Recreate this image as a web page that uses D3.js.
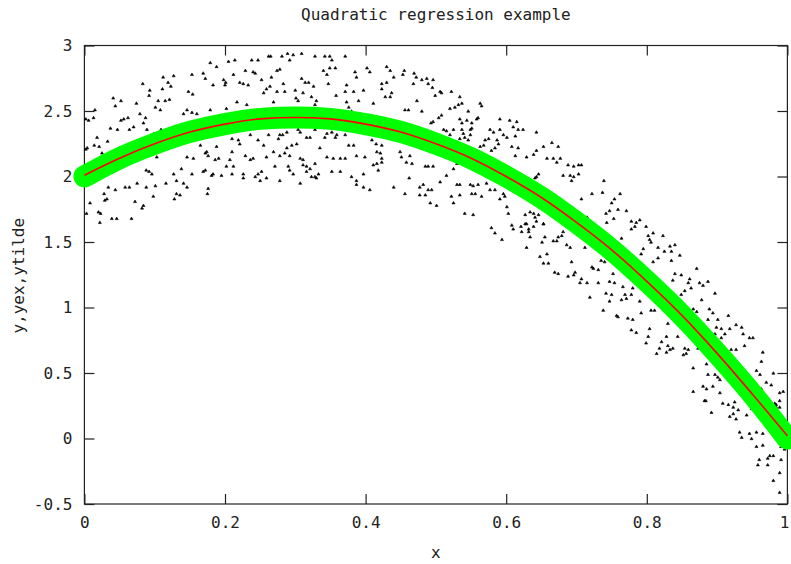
<!DOCTYPE html>
<html>
<head>
<meta charset="utf-8">
<script src="https://cdn.jsdelivr.net/npm/d3@7"></script>
<style>
  body { margin: 0; background: #fff; }
  text { font-family: 'DejaVu Sans Mono', monospace; font-size: 16px; fill: #222; }
</style>
</head>
<body>
<div id="main-chart-container"></div>
<script>
const chartTitle = 'Quadratic regression example'
const xLabel = 'x'
const yLabel = 'y,yex,ytilde'
const xTicks = [0, 0.2, 0.4, 0.6, 0.8, 1]
const yTicks = [-0.5, 0, 0.5, 1, 1.5, 2, 2.5, 3]

// sample positions for the two fitted curves
const curveX = [0, 0.05, 0.1, 0.15, 0.2, 0.25, 0.3, 0.35, 0.4, 0.45, 0.5,
  0.55, 0.6, 0.65, 0.7, 0.75, 0.8, 0.85, 0.9, 0.95, 1]
const yex = [2.0, 2.14, 2.25, 2.34, 2.4, 2.44, 2.45, 2.44, 2.4, 2.34, 2.25,
  2.14, 2.0, 1.84, 1.65, 1.44, 1.2, 0.94, 0.65, 0.34, 0.0]
const ytilde = [2.01, 2.14, 2.25, 2.34, 2.4, 2.44, 2.45, 2.44, 2.4, 2.34, 2.25,
  2.14, 2.0, 1.84, 1.65, 1.44, 1.2, 0.94, 0.65, 0.34, 0.02]

const observed = [
  [.083,2.71],[.093,2.66],[.092,2.62],[.112,2.76],[.119,2.72],[.123,2.69],[.111,2.67],[.127,2.77],[.153,2.78],[.148,2.65],
  [.154,2.63],[.041,2.60],[.052,2.58],[.044,2.54],[.074,2.56],[.105,2.58],[.115,2.58],[.121,2.59],[.101,2.53],[.108,2.51],
  [.079,2.48],[.087,2.45],[.056,2.44],[.062,2.45],[.052,2.43],[.015,2.51],[.013,2.45],[.006,2.43],[.002,2.44],[.084,2.41],
  [.070,2.38],[.064,2.36],[.047,2.36],[.037,2.37],[.018,2.30],[.033,2.27],[.021,2.23],[.014,2.24],[.004,2.22],[.002,2.21],
  [.025,2.18],[.020,2.11],[.089,2.36],[.099,2.33],[.109,2.36],[.146,2.51],[.153,2.49],[.141,2.48],[.160,2.48],[.136,2.30],
  [.127,2.28],[.157,2.29],[.117,2.22],[.146,2.15],[.155,2.14],[.103,2.15],[.096,2.02],[.092,2.04],[.088,2.05],[.127,2.02],
  [.138,2.06],[.153,2.02],[.116,1.95],[.131,1.97],[.141,1.95],[.146,1.92],[.101,1.93],[.088,1.92],[.064,1.92],[.058,1.92],
  [.075,1.95],[.034,1.92],[.044,1.90],[.028,1.87],[.032,1.83],[.029,1.82],[.098,1.85],[.131,1.87],[.136,1.86],[.128,1.83],
  [.008,1.80],[.072,1.81],[.084,1.78],[.082,1.76],[.020,1.73],[.023,1.72],[.003,1.72],[.067,1.68],[.039,1.68],[.046,1.68],
  [.022,1.65],
  [.179,2.87],[.188,2.84],[.205,2.88],[.214,2.89],[.238,2.89],[.247,2.89],[.262,2.92],[.265,2.92],[.281,2.92],[.289,2.94],
  [.292,2.89],[.297,2.93],[.309,2.94],[.328,2.92],[.342,2.92],[.349,2.92],[.352,2.89],[.371,2.92],[.169,2.79],[.172,2.75],
  [.198,2.74],[.201,2.72],[.200,2.70],[.183,2.70],[.212,2.78],[.221,2.72],[.226,2.71],[.233,2.70],[.240,2.80],[.243,2.79],
  [.252,2.74],[.229,2.81],[.259,2.67],[.264,2.69],[.255,2.64],[.266,2.76],[.274,2.81],[.278,2.82],[.283,2.71],[.274,2.65],
  [.285,2.65],[.300,2.66],[.301,2.60],[.304,2.58],[.309,2.75],[.314,2.72],[.319,2.72],[.311,2.64],[.323,2.61],[.326,2.69],
  [.330,2.58],[.328,2.55],[.340,2.81],[.345,2.78],[.349,2.83],[.357,2.83],[.347,2.71],[.358,2.62],[.371,2.65],[.373,2.70],
  [.383,2.65],[.385,2.80],[.387,2.76],[.397,2.66],[.402,2.83],[.406,2.80],[.411,2.56],[.423,2.71],[.430,2.72],[.423,2.67],
  [.430,2.84],[.435,2.81],[.437,2.64],[.435,2.61],[.428,2.61],[.440,2.76],[.217,2.57],[.231,2.55],[.269,2.57],[.179,2.51],
  [.202,2.52],[.373,2.57],[.376,2.53],[.380,2.50],[.390,2.58],[.392,2.48],[.397,2.47],
  [.165,2.24],[.172,2.18],[.176,2.16],[.174,2.19],[.186,2.13],[.191,2.14],[.188,2.23],[.210,2.29],[.219,2.28],[.221,2.25],
  [.236,2.32],[.247,2.28],[.255,2.24],[.262,2.32],[.278,2.32],[.282,2.32],[.276,2.29],[.288,2.34],[.295,2.24],[.302,2.25],
  [.304,2.36],[.307,2.34],[.316,2.30],[.328,2.36],[.342,2.30],[.345,2.33],[.352,2.34],[.357,2.30],[.359,2.32],[.371,2.32],
  [.376,2.24],[.383,2.24],[.397,2.34],[.409,2.28],[.415,2.25],[.423,2.24],[.416,2.19],[.421,2.18],[.423,2.14],[.399,2.15],
  [.387,2.16],[.371,2.14],[.364,2.14],[.354,2.14],[.345,2.15],[.328,2.10],[.335,2.22],[.321,2.30],[.311,2.13],[.307,2.14],
  [.292,2.16],[.278,2.16],[.285,2.18],[.288,2.22],[.269,2.19],[.259,2.15],[.236,2.13],[.240,2.14],[.229,2.16],[.210,2.19],
  [.207,2.13],[.172,2.05],[.169,2.04],[.183,2.02],[.181,2.01],[.195,2.01],[.202,2.08],[.212,2.08],[.210,2.02],[.226,1.99],
  [.243,2.00],[.247,2.02],[.252,2.04],[.250,1.97],[.259,1.99],[.271,2.08],[.278,1.97],[.290,2.08],[.292,2.05],[.297,2.02],
  [.307,1.95],[.311,2.09],[.316,2.08],[.316,2.04],[.321,2.06],[.323,2.00],[.328,2.00],[.333,2.02],[.330,1.99],[.352,2.04],
  [.364,2.04],[.380,2.00],[.387,1.97],[.397,2.02],[.411,2.09],[.416,2.10],[.423,2.11],[.387,1.94],[.397,1.92],[.406,1.90],
  [.418,2.05],[.440,1.92],[.226,2.02],[.176,1.91],[.175,1.87],
  [.455,2.81],[.453,2.78],[.469,2.79],[.472,2.76],[.468,2.71],[.480,2.74],[.487,2.75],[.489,2.71],[.496,2.74],[.495,2.68],
  [.506,2.65],[.508,2.64],[.499,2.62],[.522,2.65],[.534,2.61],[.537,2.56],[.473,2.58],[.480,2.50],[.456,2.51],[.461,2.51],
  [.520,2.52],[.527,2.53],[.532,2.55],[.546,2.50],[.563,2.56],[.565,2.54],[.560,2.45],[.508,2.47],[.504,2.45],[.496,2.42],
  [.493,2.41],[.534,2.44],[.544,2.43],[.551,2.41],[.558,2.44],[.537,2.41],[.591,2.44],[.605,2.43],[.615,2.42],[.610,2.38],
  [.617,2.36],[.624,2.36],[.643,2.34],[.613,2.31],[.577,2.36],[.582,2.34],[.591,2.36],[.596,2.32],[.575,2.29],[.570,2.28],
  [.568,2.24],[.563,2.23],[.587,2.28],[.589,2.25],[.584,2.22],[.579,2.20],[.565,2.18],[.601,2.30],[.608,2.23],[.617,2.22],
  [.613,2.16],[.643,2.20],[.639,2.17],[.629,2.15],[.653,2.23],[.665,2.26],[.674,2.23],[.658,2.14],[.667,2.14],[.672,2.11],
  [.677,2.14],[.688,2.09],[.696,2.08],[.703,2.09],[.707,2.09],[.681,2.01],[.691,2.01],[.696,2.00],[.693,1.97],[.703,2.02],
  [.707,1.83],[.722,1.87],[.715,1.69],[.646,2.02],[.643,2.00],[.641,1.99],[.511,2.36],[.515,2.35],[.525,2.36],[.537,2.36],
  [.539,2.33],[.549,2.36],[.551,2.37],[.549,2.32],[.520,2.32],[.534,2.29],[.541,2.30],[.546,2.28],
  [.449,2.19],[.458,2.11],[.466,2.10],[.462,1.99],[.456,1.87],[.477,1.92],[.482,1.94],[.485,2.08],[.489,2.08],[.496,2.08],
  [.494,1.90],[.489,1.90],[.485,1.86],[.477,1.86],[.492,1.80],[.501,1.78],[.506,1.96],[.522,1.85],[.525,1.80],[.530,1.94],
  [.534,1.94],[.534,1.86],[.549,1.94],[.553,1.93],[.560,1.94],[.572,1.95],[.551,1.87],[.556,1.87],[.565,1.85],[.541,1.72],
  [.553,1.71],[.577,1.90],[.584,1.90],[.596,1.87],[.591,1.83],[.598,1.85],[.601,1.77],[.603,1.72],[.608,1.63],[.627,1.71],
  [.634,1.73],[.639,1.72],[.641,1.69],[.629,1.64],[.653,1.64],[.639,1.62],[.632,1.60],[.646,1.71],[.515,2.01],[.525,2.06],
  [.530,2.10],[.463,2.16],[.451,2.15],
  [.579,1.61],[.584,1.57],[.594,1.52],[.610,1.60],[.621,1.62],[.627,1.64],[.622,1.58],[.632,1.58],[.643,1.66],[.653,1.64],
  [.634,1.54],[.629,1.46],[.651,1.50],[.655,1.54],[.667,1.51],[.672,1.51],[.674,1.54],[.679,1.55],[.681,1.58],[.686,1.48],
  [.691,1.46],[.648,1.39],[.658,1.41],[.653,1.34],[.660,1.34],[.669,1.27],[.674,1.26],[.693,1.35],[.688,1.24],[.696,1.25],
  [.698,1.27],[.707,1.22],[.705,1.19],[.715,1.19],[.719,1.08],[.722,1.31],[.724,1.30],[.731,1.29],[.731,1.19],[.712,1.46],
  [.739,1.97],[.737,1.88],[.754,1.83],[.762,1.87],[.750,1.80],[.747,1.74],[.742,1.72],[.759,1.75],[.771,1.74],[.753,1.68],
  [.743,1.65],[.778,1.66],[.785,1.65],[.790,1.67],[.783,1.62],[.799,1.62],
  [.778,1.60],[.764,1.53],[.802,1.55],[.809,1.57],[.804,1.52],[.806,1.50],[.823,1.55],
  [.795,1.45],[.792,1.41],[.816,1.46],[.833,1.47],[.825,1.43],[.835,1.43],[.840,1.48],[.847,1.40],[.809,1.35],[.816,1.38],
  [.835,1.36],[.871,1.30],[.849,1.25],[.840,1.26],[.837,1.21],[.861,1.22],[.859,1.19],[.875,1.19],[.887,1.20],[.880,1.17],
  [.854,1.13],[.849,1.10],[.847,1.06],[.863,1.15],[.897,1.11],[.878,1.06],[.866,0.99],[.889,0.99],[.894,0.96],[.871,0.97],
  [.916,0.94],[.901,0.91],[.887,0.91],[.899,0.85],[.906,0.84],[.927,0.87],[.935,0.85],[.918,0.84],[.911,0.80],[.897,0.80],
  [.906,0.77],[.937,0.80],[.946,0.77],[.951,0.77],[.939,0.71],[.927,0.68],[.920,0.68],[.965,0.66],[.963,0.59],[.956,0.52],
  [.980,0.50],[.961,0.49],[.970,0.43],[.977,0.41],[.963,0.38],[.989,0.35],[.994,0.36],[.989,0.29],[.982,0.27],[.984,0.24],
  [.735,1.36],[.740,1.35],[.752,1.26],[.747,1.20],[.754,1.19],[.742,1.11],[.750,1.10],[.747,1.05],[.738,0.98],[.766,1.16],
  [.769,1.10],[.771,1.07],[.778,1.10],[.780,1.15],[.764,1.06],[.790,1.05],[.757,0.94],[.759,0.93],[.773,0.92],[.780,0.91],
  [.778,0.83],[.785,0.81],[.792,0.96],[.806,0.98],[.811,0.98],[.804,0.84],[.802,0.78],[.799,0.73],[.821,0.74],[.818,0.69],
  [.814,0.65],[.828,0.66],[.833,0.68],[.837,0.69],[.830,0.71],[.828,0.78],[.830,0.88],[.844,0.78],[.854,0.69],[.856,0.65],
  [.852,0.64],[.859,0.68],[.873,0.69],[.866,0.54],[.885,0.57],[.887,0.49],[.897,0.49],[.901,0.47],[.904,0.45],[.894,0.40],
  [.880,0.40],[.866,0.36],[.885,0.38],[.904,0.35],[.882,0.29],[.908,0.27],[.916,0.26],[.923,0.24],[.925,0.28],[.923,0.19],
  [.930,0.22],[.892,0.20],[.918,0.17],[.927,0.15],[.842,0.98],[.847,0.99],
  [.884,0.29],[.949,0.23],[.942,0.18],[.932,0.05],[.935,0.01],[.946,0.04],[.956,0.05],[.965,0.04],[.949,0.00],[.956,-0.06],
  [.965,-0.05],[.975,-0.13],[.980,-0.13],[.972,-0.15],[.960,-0.16],[.958,-0.20],[.972,-0.20],[.991,-0.16],[.989,-0.26],[.980,-0.32],
  [.989,-0.41],[.991,-0.06],[.996,-0.08],[.984,0.26],[.989,0.24],[.994,0.14],[.989,0.04],[.994,0.01]
]

const width = 791
const height = 564
const margin = { left: 84.4, top: 45.5, right: 3.6, bottom: 60 }
const tickLength = 10

const svg = d3.select('#main-chart-container')
  .append('svg')
  .attr('width', width)
  .attr('height', height)

const xScale = d3.scaleLinear()
  .domain([0, 1])
  .range([margin.left, width - margin.right])

const yScale = d3.scaleLinear()
  .domain([-0.5, 3])
  .range([height - margin.bottom, margin.top])

const fmt = d => String(d)

function styleAxis(g) {
  g.select('.domain').remove()
  g.selectAll('.tick line').attr('stroke', '#222').attr('stroke-width', 1.2)
  g.selectAll('.tick text')
    .attr('fill', '#222')
    .style('font-family', "'DejaVu Sans Mono', monospace")
    .style('font-size', '16px')
}

const xAxisG = svg.append('g')
  .attr('transform', `translate(0, ${height - margin.bottom})`)
  .call(d3.axisBottom(xScale).tickValues(xTicks).tickFormat(fmt)
    .tickSize(-tickLength).tickPadding(13))
  .call(styleAxis)

// last x label sits at the window edge: keep it inside
xAxisG.selectAll('.tick text')
  .filter(d => d === xTicks[xTicks.length - 1])
  .attr('text-anchor', 'end')
  .attr('dx', 1.5)

svg.append('g')
  .attr('transform', `translate(${margin.left}, 0)`)
  .call(d3.axisLeft(yScale).tickValues(yTicks).tickFormat(fmt)
    .tickSize(-tickLength).tickPadding(12))
  .call(styleAxis)

// mirrored ticks on top and right
svg.append('g')
  .attr('transform', `translate(0, ${margin.top})`)
  .call(d3.axisTop(xScale).tickValues(xTicks).tickFormat('')
    .tickSize(-tickLength))
  .call(styleAxis)

svg.append('g')
  .attr('transform', `translate(${width - margin.right}, 0)`)
  .call(d3.axisRight(yScale).tickValues(yTicks).tickFormat('')
    .tickSize(-tickLength))
  .call(styleAxis)

svg.append('rect')
  .attr('x', margin.left)
  .attr('y', margin.top)
  .attr('width', width - margin.left - margin.right)
  .attr('height', height - margin.top - margin.bottom)
  .attr('fill', 'none')
  .attr('stroke', '#222')
  .attr('stroke-width', 1.2)

svg.append('text')
  .attr('x', (margin.left + width - margin.right) / 2)
  .attr('y', 20)
  .attr('text-anchor', 'middle')
  .text(chartTitle)

svg.append('text')
  .attr('x', (margin.left + width - margin.right) / 2)
  .attr('y', 558)
  .attr('text-anchor', 'middle')
  .text(xLabel)

svg.append('text')
  .attr('transform', `translate(24, ${(margin.top + height - margin.bottom) / 2 + 1}) rotate(-90)`)
  .attr('text-anchor', 'middle')
  .text(yLabel)

// observations
svg.append('g')
  .selectAll('path')
  .data(observed)
  .join('path')
  .attr('d', 'M-1.5,1.2L1.5,1.2L0,-1.3Z')
  .attr('transform', d => `translate(${xScale(d[0])}, ${yScale(d[1])})`)
  .attr('fill', '#000')
  .attr('stroke', '#000')
  .attr('stroke-width', 0.6)

const line = d3.line()
  .curve(d3.curveMonotoneX)
  .x(d => xScale(d[0]))
  .y(d => yScale(d[1]))

svg.append('path')
  .datum(d3.zip(curveX, yex))
  .attr('d', line)
  .attr('fill', 'none')
  .attr('stroke', '#00ff00')
  .attr('stroke-width', 22)
  .attr('stroke-linecap', 'round')
  .attr('stroke-linejoin', 'round')

svg.append('path')
  .datum(d3.zip(curveX, ytilde))
  .attr('d', line)
  .attr('fill', 'none')
  .attr('stroke', '#ff0000')
  .attr('stroke-width', 1.6)
</script>
</body>
</html>
